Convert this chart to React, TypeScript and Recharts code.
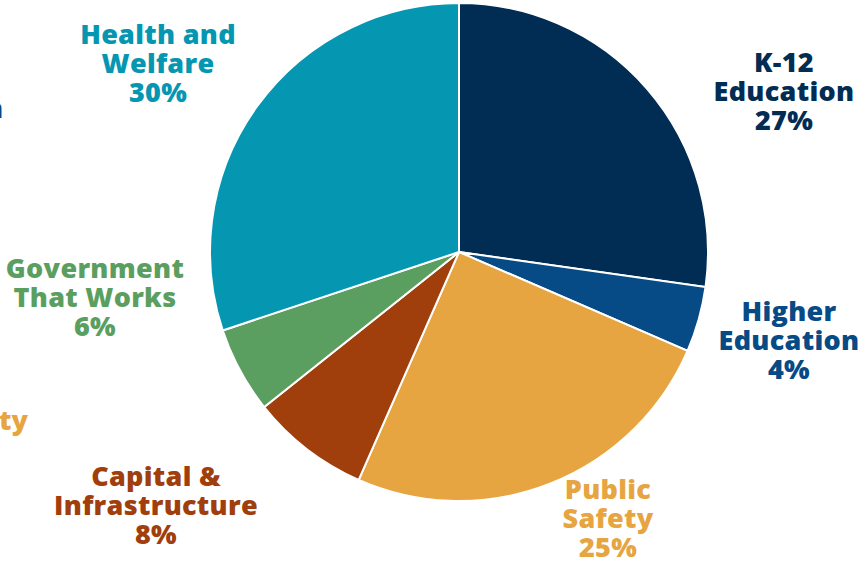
import * as React from 'react';
import { PieChart, Pie, Cell, Customized } from 'recharts';

// budget shares (%), clockwise from 12 o'clock
const categories = ['K-12 Education', 'Higher Education', 'Public Safety', 'Capital & Infrastructure', 'Government That Works', 'Health and Welfare'];
const shares = [27.25, 4.25, 25.1, 7.7, 5.6, 30.1];
const labelLines = [
    ['K-12', 'Education'],
    ['Higher', 'Education'],
    ['Public', 'Safety'],
    ['Capital &', 'Infrastructure'],
    ['Government', 'That Works'],
    ['Health and', 'Welfare'],
];
const colors = ['#012C53', '#064A86', '#E6A541', '#A03E0C', '#5B9F60', '#0596B1'];

// where each label sits, relative to the pie centre (middle line baseline)
const labelOffsets = [
    [325, -151],
    [330, 98],
    [149, 276],
    [-303, 263],
    [-364, 55],
    [-301, -179],
];

const FONT = '"Open Sans", "Noto Sans", sans-serif';
const FONT_SIZE = 27;
const LINE = 29;

const data = categories.map((name, i) => ({ name, value: shares[i] }));

const renderLabel = (props: any) => {
    const { cx, cy, index } = props;
    const [dx, dy] = labelOffsets[index];
    const x = cx + dx;
    const y = cy + dy;
    const lines = [...labelLines[index], `${Math.round(shares[index])}%`];
    return (
        <text
            x={x}
            y={y - LINE}
            textAnchor="middle"
            fill={colors[index]}
            fontFamily={FONT}
            fontWeight={800}
            fontSize={FONT_SIZE}
            letterSpacing={0.3}
        >
            {lines.map((l, i) => (
                <tspan key={i} x={x} y={y - LINE + i * LINE}>{l}</tspan>
            ))}
        </text>
    );
};

// cut-off labels of the neighbouring chart at the left edge
const EdgeText = () => (
    <g fontFamily={FONT} fontWeight={800} fontSize={FONT_SIZE}>
        <text x={3} y={118} textAnchor="end" fill="#064A86">Education</text>
        <text x={28} y={430} textAnchor="end" fill="#E6A541">Safety</text>
    </g>
);

export default function App() {
    return (
        <div style={{ position: 'absolute', left: 0, top: 0 }}>
            <PieChart width={858} height={567} margin={{ top: 0, right: 0, bottom: 0, left: 0 }}>
                <Pie
                    data={data}
                    dataKey="value"
                    cx={459}
                    cy={252}
                    outerRadius={249}
                    startAngle={90}
                    endAngle={-270}
                    stroke="#ffffff"
                    strokeWidth={2}
                    label={renderLabel}
                    labelLine={false}
                    isAnimationActive={false}
                >
                    {data.map((d, i) => (
                        <Cell key={d.name} fill={colors[i]} />
                    ))}
                </Pie>
                <Customized component={EdgeText} />
            </PieChart>
        </div>
    );
}
